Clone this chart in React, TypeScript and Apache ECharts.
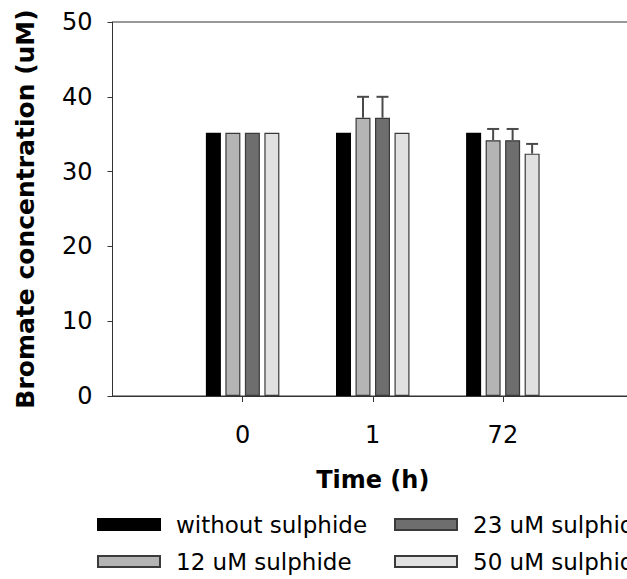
import React, { useEffect, useRef } from "react";
import * as echarts from "echarts";

const timeLabels = ["0", "1", "72"];
const seriesNames = ["without sulphide", "12 uM sulphide", "23 uM sulphide", "50 uM sulphide"];
const withoutSulphide = [35.2, 35.2, 35.2];
const sulphide12 = [35.2, 37.2, 34.2];
const sulphide23 = [35.2, 37.2, 34.2];
const sulphide50 = [35.2, 35.2, 32.4];
const err12 = [0, 2.8, 1.5];
const err23 = [0, 2.8, 1.5];
const err50 = [0, 0, 1.3];
const errWithout = [0, 0, 0];
const yTicks = [0, 10, 20, 30, 40, 50];

const barColors = ["#000000", "#b4b4b4", "#6e6e6e", "#e1e1e1"];
const FONT = "DejaVu Sans";
const BAR_W = 15;
const GAP_RATIO = 0.3;

export default function App() {
  const ref = useRef<HTMLDivElement>(null);
  useEffect(() => {
    if (!ref.current) return;
    const chart = echarts.init(ref.current, null, { renderer: "svg" });
    const values = [withoutSulphide, sulphide12, sulphide23, sulphide50];
    const errors = [errWithout, err12, err23, err50];
    const axisData = ["", ...timeLabels, ""];

    const barSeries = values.map((vals, s) => ({
      type: "bar",
      name: seriesNames[s],
      data: [null, ...vals, null],
      barWidth: BAR_W,
      barGap: GAP_RATIO * 100 + "%",
      itemStyle: {
        color: barColors[s],
        borderColor: s === 0 ? "#000" : "#3a3a3a",
        borderWidth: 1.2,
      },
      z: 2,
    }));

    const errData: number[][] = [];
    values.forEach((vals, s) => {
      vals.forEach((v, i) => {
        if (errors[s][i] > 0) errData.push([i + 1, v, errors[s][i], s]);
      });
    });

    const errSeries = {
      type: "custom",
      name: "errors",
      z: 3,
      data: errData,
      renderItem: (params: any, api: any) => {
        const xi = api.value(0);
        const v = api.value(1);
        const e = api.value(2);
        const s = api.value(3);
        const base = api.coord([xi, v]);
        const top = api.coord([xi, v + e]);
        const x = base[0] + (s - 1.5) * BAR_W * (1 + GAP_RATIO);
        const st = { stroke: "#4a4a4a", lineWidth: 2 };
        return {
          type: "group",
          children: [
            { type: "line", shape: { x1: x, y1: base[1], x2: x, y2: top[1] }, style: st },
            { type: "line", shape: { x1: x - 6, y1: top[1], x2: x + 6, y2: top[1] }, style: st },
          ],
        };
      },
    };

    const legendCommon = {
      orient: "vertical",
      itemWidth: 62,
      itemHeight: 11,
      itemGap: 14,
      padding: 0,
      height: 90,
      icon: "rect",
      selectedMode: false,
      textStyle: { fontFamily: FONT, fontSize: 23, color: "#000", padding: [0, 0, 0, 11] },
    };

    chart.setOption({
      animation: false,
      backgroundColor: "#fff",
      grid: {
        left: 112.5,
        top: 22,
        width: 520.5,
        height: 374,
        containLabel: false,
        outerBoundsMode: "none",
        show: true,
        borderColor: "#333",
        borderWidth: 1,
      },
      legend: [
        { ...legendCommon, left: 97, top: 513, data: seriesNames.slice(0, 2) },
        { ...legendCommon, left: 394, top: 513, data: seriesNames.slice(2, 4) },
      ],
      xAxis: {
        type: "category",
        data: axisData,
        boundaryGap: false,
        name: "Time (h)",
        nameLocation: "middle",
        nameGap: 72,
        nameTextStyle: { fontFamily: FONT, fontSize: 24, fontWeight: "bold", color: "#000" },
        axisLine: { lineStyle: { color: "#333", width: 1 } },
        axisTick: {
          length: 6,
          lineStyle: { color: "#333" },
          interval: (index: number) => index >= 1 && index <= timeLabels.length,
        },
        axisLabel: {
          fontFamily: FONT,
          fontSize: 24,
          color: "#000",
          margin: 27,
          interval: 0,
        },
        splitLine: { show: false },
      },
      yAxis: {
        type: "value",
        min: yTicks[0],
        max: yTicks[yTicks.length - 1],
        interval: 10,
        name: "Bromate concentration (uM)",
        nameLocation: "middle",
        nameGap: 75,
        nameTextStyle: { fontFamily: FONT, fontSize: 25, fontWeight: "bold", color: "#000" },
        axisLine: { show: true, lineStyle: { color: "#333", width: 1 } },
        axisTick: { show: true, length: 5, lineStyle: { color: "#333" } },
        axisLabel: { fontFamily: FONT, fontSize: 24, color: "#000", margin: 20 },
        splitLine: { show: false },
      },
      series: [...barSeries, errSeries],
    });
    return () => chart.dispose();
  }, []);

  return (
    <div
      ref={ref}
      style={{ position: "fixed", left: 0, top: 0, width: 627, height: 579, background: "#fff" }}
    />
  );
}
